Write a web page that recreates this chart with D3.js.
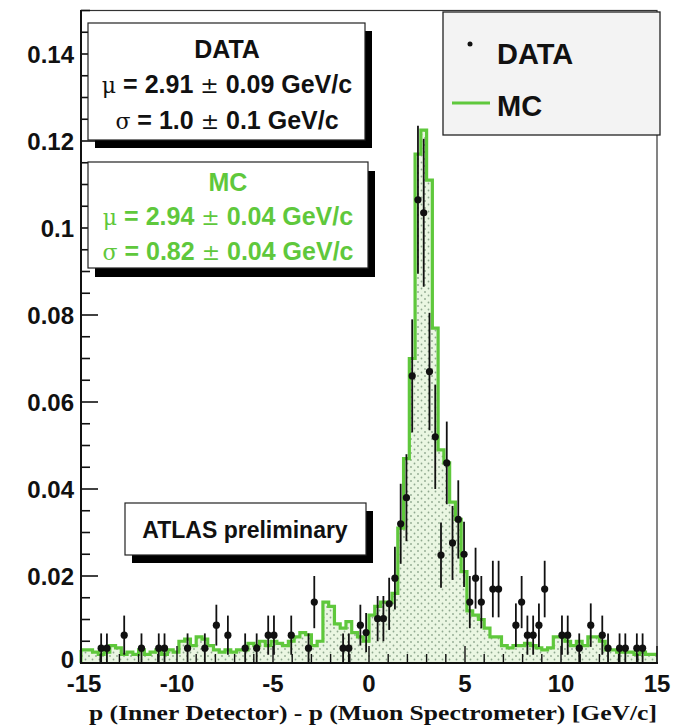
<!DOCTYPE html>
<html><head><meta charset="utf-8">
<script src="https://cdn.jsdelivr.net/npm/d3@7"></script>
<style>body{margin:0;background:#fff} svg{display:block}</style>
</head><body><svg id="c" width="674" height="728"></svg>
<script>
// ---------- data ----------
const xMin = -15, xMax = 15, binWidth = 0.3;
const mcValues = [
 0.003,0.003,0.0025,0.002,0.0025,0.004,0.0035,0.002,0.0025,0.002,
 0.003,0.002,0.0025,0.003,0.002,0.003,0.0025,0.005,0.0055,0.004,
 0.006,0.0055,0.004,0.003,0.0025,0.003,0.0025,0.003,0.003,0.0045,
 0.004,0.005,0.004,0.005,0.0045,0.004,0.005,0.006,0.007,0.0065,
 0.004,0.005,0.014,0.013,0.009,0.008,0.0095,0.007,0.006,0.005,
 0.011,0.013,0.014,0.014,0.016,0.031,0.047,0.070,0.117,0.1225,
 0.111,0.077,0.049,0.046,0.037,0.033,0.021,0.012,0.011,0.010,
 0.008,0.006,0.006,0.004,0.0035,0.004,0.004,0.0045,0.004,0.0035,
 0.003,0.0035,0.006,0.006,0.005,0.004,0.005,0.004,0.006,0.006,
 0.005,0.003,0.003,0.0025,0.0025,0.0025,0.002,0.0025,0.002,0.002
];
const dataX = [-13.95,-13.65,-12.75,-11.85,-10.95,-10.65,-9.45,-8.55,-7.95,-7.35,
 -6.45,-5.85,-5.25,-4.95,-4.05,-3.15,-2.85,-1.35,-1.05,-0.45,-0.15,
 0.45,0.75,1.05,1.35,1.65,1.95,2.25,2.55,2.85,3.15,3.45,3.75,4.05,4.35,4.65,4.95,
 5.25,5.55,5.85,6.45,6.75,7.65,7.95,8.25,8.55,8.85,9.15,10.05,10.35,10.95,11.55,
 12.15,12.45,13.05,13.35,13.95,14.25];
const dataY = [0.0034,0.0034,0.0064,0.0034,0.0034,0.0034,0.0034,0.0034,0.0087,0.0064,
 0.0034,0.0034,0.0064,0.0064,0.0064,0.0034,0.014,0.0034,0.0034,0.0087,0.007,
 0.0102,0.0102,0.0136,0.0195,0.032,0.038,0.066,0.1065,0.1035,0.067,0.052,0.0248,0.046,0.0276,0.033,0.025,
 0.014,0.0195,0.014,0.017,0.017,0.0087,0.014,0.0064,0.0064,0.0087,0.017,0.0064,0.0064,0.0034,0.0087,
 0.0064,0.0034,0.0034,0.0034,0.0034,0.0034];
const dataErr = [0.0034,0.0034,0.0045,0.0034,0.0034,0.0034,0.0034,0.0034,0.0047,0.0045,
 0.0034,0.0034,0.0045,0.0045,0.0045,0.0034,0.006,0.0034,0.0034,0.0047,0.0045,
 0.0052,0.0052,0.006,0.0072,0.0092,0.010,0.013,0.017,0.017,0.0135,0.012,0.0075,0.0095,0.0085,0.009,0.0075,
 0.006,0.007,0.006,0.0065,0.0065,0.005,0.006,0.0045,0.0045,0.005,0.0065,0.0045,0.0045,0.0034,0.005,
 0.0045,0.0034,0.0034,0.0034,0.0034,0.0034];
const xTicks = [-15,-10,-5,0,5,10,15];
const xTickLabels = ["-15","-10","-5","0","5","10","15"];
const yTicks = [0,0.02,0.04,0.06,0.08,0.1,0.12,0.14];
const yTickLabels = ["0","0.02","0.04","0.06","0.08","0.1","0.12","0.14"];
const xTitle = "p (Inner Detector) - p (Muon Spectrometer) [GeV/c]";
const dataFitLines = [["μ"," = 2.91 ","±"," 0.09 GeV/c"],["σ"," = 1.0 ","±"," 0.1 GeV/c"]];
const mcFitLines = [["μ"," = 2.94 ","±"," 0.04 GeV/c"],["σ"," = 0.82 ","±"," 0.04 GeV/c"]];
const legendLabels = ["DATA","MC"];
const labelText = "ATLAS preliminary";

// ---------- drawing ----------
const green = "#5fc83c";
const sans = "Liberation Sans, Arial, sans-serif";
const svg = d3.select("#c");
const x = d3.scaleLinear([xMin, xMax], [81, 657]);
const y = d3.scaleLinear([0, 0.15], [663, 10.5]);

const defs = svg.append("defs");
const pat = defs.append("pattern").attr("id","dots").attr("patternUnits","userSpaceOnUse")
  .attr("width",7).attr("height",7);
pat.append("rect").attr("width",7).attr("height",7).attr("fill","#eaf6e2");
pat.append("circle").attr("cx",1.5).attr("cy",1.5).attr("r",0.9).attr("fill","#8fa88f");
pat.append("circle").attr("cx",5).attr("cy",5).attr("r",0.9).attr("fill","#8fa88f");

// MC histogram
const edges = mcValues.map((v,i)=>({x: xMin + i*binWidth, v}));
edges.push({x: xMax, v: mcValues[mcValues.length-1]});
const area = d3.area().curve(d3.curveStepAfter).x(d=>x(d.x)).y0(y(0)).y1(d=>y(d.v));
svg.append("path").attr("d", area(edges)).attr("fill","url(#dots)");
const line = d3.line().curve(d3.curveStepAfter).x(d=>x(d.x)).y(d=>y(d.v));
svg.append("path").attr("d", line(edges)).attr("fill","none").attr("stroke",green).attr("stroke-width",3.2);
svg.append("line").attr("x1",x(xMin)).attr("x2",x(xMin)).attr("y1",y(0)).attr("y2",y(mcValues[0])).attr("stroke",green).attr("stroke-width",3);

// data points
const gd = svg.append("g");
dataX.forEach((cx,i)=>{
  const v = dataY[i], e = dataErr[i];
  gd.append("line").attr("x1",x(cx)).attr("x2",x(cx)).attr("y1",y(Math.max(0,v-e))).attr("y2",y(v+e))
    .attr("stroke","#111").attr("stroke-width",1.8);
  gd.append("line").attr("x1",x(cx-binWidth/2)).attr("x2",x(cx+binWidth/2)).attr("y1",y(v)).attr("y2",y(v))
    .attr("stroke","#111").attr("stroke-width",1.8);
  gd.append("circle").attr("cx",x(cx)).attr("cy",y(v)).attr("r",3.6).attr("fill","#111");
});

// frame
svg.append("rect").attr("x",81).attr("y",10.5).attr("width",576).attr("height",652.5)
  .attr("fill","none").attr("stroke","#333").attr("stroke-width",1.2);
svg.append("line").attr("x1",81).attr("x2",81).attr("y1",10).attr("y2",664).attr("stroke","#111").attr("stroke-width",2);
svg.append("line").attr("x1",80).attr("x2",658).attr("y1",663).attr("y2",663).attr("stroke","#111").attr("stroke-width",2);

// y ticks
const yMinor = d3.range(0, 0.1501, 0.005);
svg.append("g").selectAll("line").data(yMinor).join("line")
  .attr("x1",81).attr("x2",d=> Math.abs(d/0.02 - Math.round(d/0.02))<1e-6 ? 98 : 90)
  .attr("y1",d=>y(d)).attr("y2",d=>y(d)).attr("stroke","#111").attr("stroke-width",1.6);
svg.append("g").selectAll("text").data(yTicks).join("text")
  .attr("x",74).attr("y",(d,i)=>y(d)+ (i===0 ? 5 : 9)).attr("text-anchor","end")
  .attr("font-family",sans).attr("font-weight","bold").attr("font-size",24)
  .attr("fill","#111").text((d,i)=>yTickLabels[i]);

// x ticks
const xMinor = d3.range(xMin, xMax+0.001, 1);
svg.append("g").selectAll("line").data(xMinor).join("line")
  .attr("x1",d=>x(d)).attr("x2",d=>x(d)).attr("y1",663)
  .attr("y2",d=> d%5===0 ? 646 : 654).attr("stroke","#111").attr("stroke-width",1.4);
svg.append("g").selectAll("text").data(xTicks).join("text")
  .attr("x",(d,i)=>x(d) + (i===0 ? 3 : 0)).attr("y",692).attr("text-anchor","middle")
  .attr("font-family",sans).attr("font-weight","bold").attr("font-size",24)
  .attr("fill","#111").text((d,i)=>xTickLabels[i]);
svg.append("text").attr("x",373).attr("y",720).attr("text-anchor","middle")
  .attr("font-family","Liberation Serif, Times New Roman, serif").attr("font-weight","bold").attr("font-size",22)
  .attr("textLength",568).attr("lengthAdjust","spacingAndGlyphs")
  .attr("fill","#111").text(xTitle);

// boxes with shadow
function shadowBox(x0,y0,w,h,dx,dy,fill){
  svg.append("rect").attr("x",x0+dx).attr("y",y0+dy).attr("width",w).attr("height",h).attr("fill","#000");
  svg.append("rect").attr("x",x0).attr("y",y0).attr("width",w).attr("height",h).attr("fill",fill||"#fff")
    .attr("stroke","#222").attr("stroke-width",1.2);
}
function fitText(cx, by, parts, color){
  const t = svg.append("text").attr("x",cx).attr("y",by).attr("text-anchor","middle")
    .attr("font-size",25).attr("fill",color);
  parts.forEach((p,i)=>{
    const sym = (i%2===0);
    t.append("tspan").text(p)
      .attr("font-family", sym ? "DejaVu Serif, serif" : sans)
      .attr("font-weight", sym ? "normal" : "bold")
      .attr("font-size", sym ? 22 : 25);
  });
}
shadowBox(88,23,277,117,7,8);
svg.append("text").attr("x",227).attr("y",58).attr("text-anchor","middle")
  .attr("font-family",sans).attr("font-weight","bold").attr("font-size",25)
  .attr("fill","#111").text("DATA");
fitText(227, 93, dataFitLines[0], "#111");
fitText(227, 129, dataFitLines[1], "#111");

shadowBox(88,162,280,106,7,9);
svg.append("text").attr("x",228).attr("y",191).attr("text-anchor","middle")
  .attr("font-family",sans).attr("font-weight","bold").attr("font-size",25)
  .attr("fill",green).text("MC");
fitText(228, 225, mcFitLines[0], green);
fitText(228, 260, mcFitLines[1], green);

shadowBox(125,503,241,52,7,8);
svg.append("text").attr("x",245).attr("y",538).attr("text-anchor","middle")
  .attr("font-family",sans).attr("font-weight","bold").attr("font-size",23)
  .attr("fill","#111").text(labelText);

// legend
svg.append("rect").attr("x",443).attr("y",12).attr("width",217).attr("height",123)
  .attr("fill","#f3f3f3").attr("stroke","#222").attr("stroke-width",1.3);
svg.append("circle").attr("cx",470).attr("cy",44).attr("r",2.5).attr("fill","#111");
svg.append("line").attr("x1",452).attr("x2",490).attr("y1",103).attr("y2",103).attr("stroke",green).attr("stroke-width",3);
svg.append("g").selectAll("text").data(legendLabels).join("text")
  .attr("x",497).attr("y",(d,i)=> i===0 ? 64 : 116)
  .attr("font-family",sans).attr("font-weight","bold").attr("font-size",29)
  .attr("fill","#111").text(d=>d);
</script></body></html>
